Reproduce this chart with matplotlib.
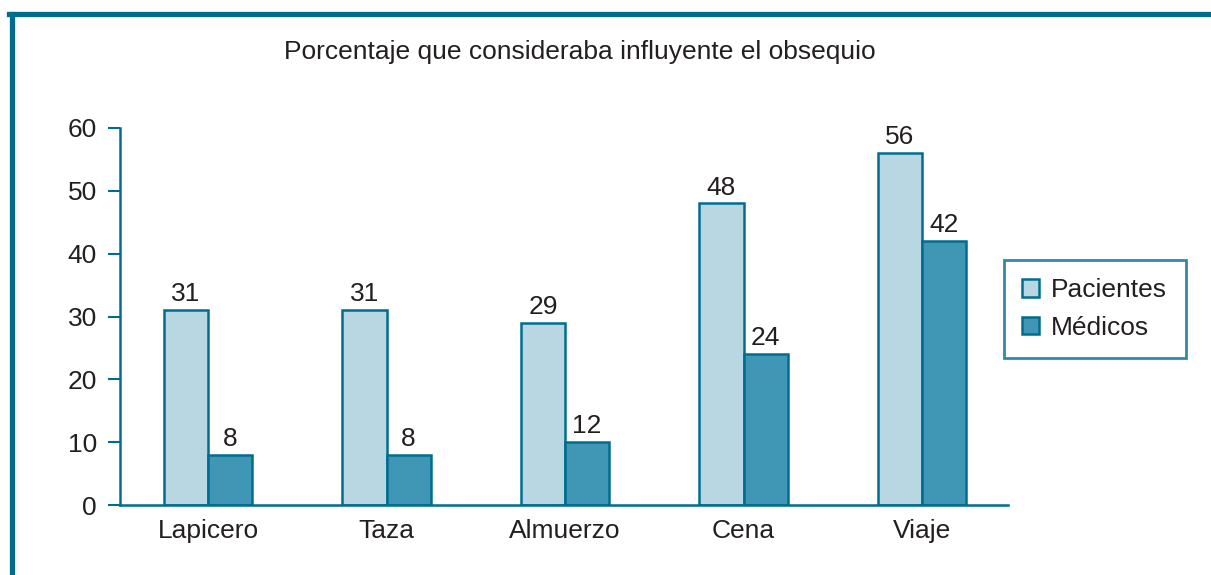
import matplotlib.pyplot as plt
import numpy as np
from matplotlib.lines import Line2D

plt.rcParams['font.family'] = ['Liberation Sans', 'DejaVu Sans']

categories = ["Lapicero", "Taza", "Almuerzo", "Cena", "Viaje"]
pacientes = [31, 31, 29, 48, 56]
medicos = [8, 8, 10, 24, 42]
# printed labels (the Almuerzo bar is drawn shorter than its label)
pacientes_labels = [31, 31, 29, 48, 56]
medicos_labels = [8, 8, 12, 24, 42]
y_ticks = [0, 10, 20, 30, 40, 50, 60]

EDGE = "#006d8f"
LIGHT = "#b9d6e3"
DARK = "#3f97b5"
TEXT = "#231f20"
FS = 19

# =========================================================
# FIGURE
# =========================================================

fig = plt.figure(figsize=(12.11, 5.75), dpi=100)

ax = fig.add_axes([0.0991, 0.1217, 0.7333, 0.6557])

x = np.arange(len(categories))
w = 0.247

ax.bar(x - w / 2, pacientes, w, color=LIGHT, edgecolor=EDGE, linewidth=1.8, label="Pacientes")
ax.bar(x + w / 2, medicos, w, color=DARK, edgecolor=EDGE, linewidth=1.8, label="Médicos")

for i in range(len(categories)):
    ax.text(x[i] - w / 2, pacientes[i] + 0.6, str(pacientes_labels[i]),
            ha="center", va="bottom", fontsize=FS, color=TEXT)
    ax.text(x[i] + w / 2, medicos[i] + 0.6, str(medicos_labels[i]),
            ha="center", va="bottom", fontsize=FS, color=TEXT)

ax.set_xlim(-0.493, 4.482)
ax.set_ylim(0, 60)
ax.set_yticks(y_ticks)
ax.set_xticks(x)
ax.set_xticklabels(categories)

ax.tick_params(axis="y", direction="out", length=8.5, width=1.5, color=EDGE,
               labelsize=FS, labelcolor=TEXT, pad=8)
ax.tick_params(axis="x", length=0, labelsize=FS, labelcolor=TEXT, pad=10)

for side in ["top", "right"]:
    ax.spines[side].set_visible(False)
for side in ["left", "bottom"]:
    ax.spines[side].set_color(EDGE)
    ax.spines[side].set_linewidth(1.8)

leg = ax.legend(loc="upper left", bbox_to_anchor=(0.995, 0.65), fontsize=FS,
                frameon=True, fancybox=False, handlelength=0.65, handleheight=0.65,
                handletextpad=0.45, borderpad=0.7, labelspacing=0.5,
                borderaxespad=0)
leg.get_frame().set_edgecolor(EDGE)
leg.get_frame().set_linewidth(2)
for t in leg.get_texts():
    t.set_color(TEXT)

fig.text(0.479, 0.909, "Porcentaje que consideraba influyente el obsequio",
         ha="center", va="center", fontsize=FS, color=TEXT)

# outer frame (top and left only)
fig.add_artist(Line2D([0.0097, 0.0097], [0, 0.976], color=EDGE, linewidth=3.8))
fig.add_artist(Line2D([0.0078, 1.0], [0.976, 0.976], color=EDGE, linewidth=3.8))

plt.savefig("out.png", dpi=100)
